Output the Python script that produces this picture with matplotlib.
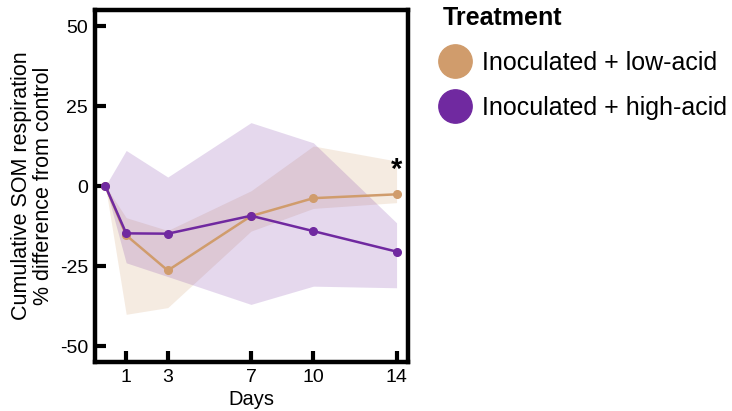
import matplotlib
matplotlib.use("Agg")
import matplotlib.pyplot as plt
from matplotlib.lines import Line2D

plt.rcParams['font.family'] = ['Liberation Sans', 'DejaVu Sans']
plt.rcParams['axes.unicode_minus'] = False

days = [0, 1, 3, 7, 10, 14]
xtick_labels = ["1", "3", "7", "10", "14"]
ytick_vals = [-50, -25, 0, 25, 50]

low_mean = [0, -15.4, -26.4, -9.4, -3.8, -2.6]
low_upper = [0, -9.9, -13.9, -1.5, 12.5, 7.8]
low_lower = [0, -40.1, -38.0, -14.1, -7.0, -5.2]

high_mean = [0, -14.8, -14.9, -9.3, -14.1, -20.5]
high_upper = [0, 11.1, 2.8, 19.8, 13.5, -11.5]
high_lower = [0, -24.0, -28.3, -37.0, -31.3, -31.8]

labels = ["Inoculated + low-acid", "Inoculated + high-acid"]
c_low = "#D09C6C"
c_high = "#7029A0"

fig = plt.figure(figsize=(7.32, 4.11), dpi=100)
ax = fig.add_axes([95/732, 1-362/411, (408-95)/732, (362-10)/411])

ax.fill_between(days, low_lower, low_upper, color=c_low, alpha=0.2, linewidth=0)
ax.plot(days, low_mean, color=c_low, lw=1.8, marker='o', ms=5.5)
ax.fill_between(days, high_lower, high_upper, color=c_high, alpha=0.18, linewidth=0)
ax.plot(days, high_mean, color=c_high, lw=1.8, marker='o', ms=5.5)

ax.text(14, 5.0, "*", ha='center', va='center', fontsize=21, fontweight='bold')

ax.set_xlim(-0.5, 14.55)
ax.set_ylim(-55, 55)
ax.set_xticks([1, 3, 7, 10, 14])
ax.set_xticklabels(xtick_labels)
ax.set_yticks(ytick_vals)
ax.set_yticklabels([str(v) for v in ytick_vals])
ax.tick_params(direction='in', length=8, width=3, labelsize=14, pad=5, color='black')
for s in ax.spines.values():
    s.set_linewidth(3.2)
    s.set_color('black')
ax.set_xlabel("Days", fontsize=14.5, labelpad=3)
ax.set_ylabel("Cumulative SOM respiration\n% difference from control", fontsize=15.5, labelpad=4, linespacing=1.05)

handles = [Line2D([], [], ls='none', marker='o', ms=24, color=c) for c in (c_low, c_high)]
leg = fig.legend(handles, labels, loc='upper left', bbox_to_anchor=(443/732, 1-6/411),
                 bbox_transform=fig.transFigure, frameon=False, fontsize=18,
                 title="Treatment", title_fontproperties={'weight': 'bold', 'size': 18},
                 alignment='left', handlelength=1.0, handletextpad=0.55,
                 labelspacing=0.84, borderpad=0, borderaxespad=0)

fig.savefig("out.png", dpi=100)
